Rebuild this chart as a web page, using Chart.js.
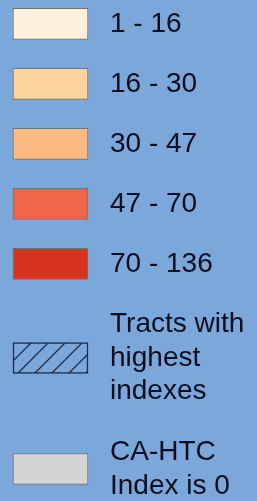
<!DOCTYPE html>
<html lang="en">
<head>
<meta charset="UTF-8" />
<meta name="viewport" content="width=device-width, initial-scale=1.0" />
<title>CA-HTC legend</title>
<script src="https://cdn.jsdelivr.net/npm/chart.js"></script>
<style>
  body { margin: 0; background: #7ba7db; }
  #wrap { width: 257px; height: 501px; }
</style>
</head>
<body>
<div id="wrap"><canvas id="legendChart"></canvas></div>
<script>
// legend entries (each row: lines of text)
const labels = [
  ["1 - 16"],
  ["16 - 30"],
  ["30 - 47"],
  ["47 - 70"],
  ["70 - 136"],
  ["Tracts with", "highest", "indexes"],
  ["CA-HTC", "Index is 0"]
];
const fills = ["#fff0db", "#fdd49e", "#fdbb84", "#f06548", "#d9331f", "hatch", "#d4d4d4"];
const borders = ["#737373", "#737373", "#737373", "#737373", "#737373", "#1c2c48", "#737373"];

// row centres on the y scale, from the number of text lines in each row
const gap = 0.765;
const rowCenters = [];
let start = 0;
labels.forEach((l) => {
  rowCenters.push(start + l.length / 2);
  start += l.length + gap;
});

const makeHatch = () => {
  const s = 17;
  const c = document.createElement("canvas");
  c.width = s;
  c.height = s;
  const g = c.getContext("2d");
  g.fillStyle = "#7ba7db";
  g.fillRect(0, 0, s, s);
  g.strokeStyle = "#1c2c48";
  g.lineWidth = 1.3;
  g.beginPath();
  g.moveTo(0, s); g.lineTo(s, 0);
  g.moveTo(-2, 2); g.lineTo(2, -2);
  g.moveTo(s - 2, s + 2); g.lineTo(s + 2, s - 2);
  g.stroke();
  return g.createPattern(c, "repeat");
};

const ctx = document.getElementById("legendChart").getContext("2d");
const hatch = makeHatch();

new Chart(ctx, {
  type: "bar",
  data: {
    datasets: [
      {
        data: rowCenters.map((y) => ({ x: [0, 1], y: y })),
        backgroundColor: fills.map((f) => (f === "hatch" ? hatch : f)),
        borderColor: borders,
        borderWidth: fills.map((f) => (f === "hatch" ? 1.5 : 1)),
        borderSkipped: false,
        barThickness: 31,
        clip: false
      }
    ]
  },
  options: {
    indexAxis: "y",
    responsive: true,
    maintainAspectRatio: false,
    animation: false,
    layout: { padding: 0 },
    plugins: { legend: { display: false }, tooltip: { enabled: false } },
    scales: {
      x: { type: "linear", display: false, min: -13 / 75, max: 1 },
      y: {
        type: "linear",
        position: "right",
        reverse: true,
        offset: false,
        min: -0.2,
        max: 14.53,
        grid: { display: false, drawTicks: false, offset: false },
        border: { display: false },
        afterBuildTicks: (scale) => {
          scale.ticks = rowCenters.map((v) => ({ value: v }));
        },
        afterFit: (scale) => {
          scale.width = 169;
          scale.paddingTop = 0;
          scale.paddingBottom = 0;
        },
        ticks: {
          autoSkip: false,
          padding: 22,
          color: "#0a0f1f",
          font: { family: "'Liberation Sans', Arial, sans-serif", size: 28 },
          callback: (value, index) => labels[index]
        }
      }
    }
  }
});
</script>
</body>
</html>
